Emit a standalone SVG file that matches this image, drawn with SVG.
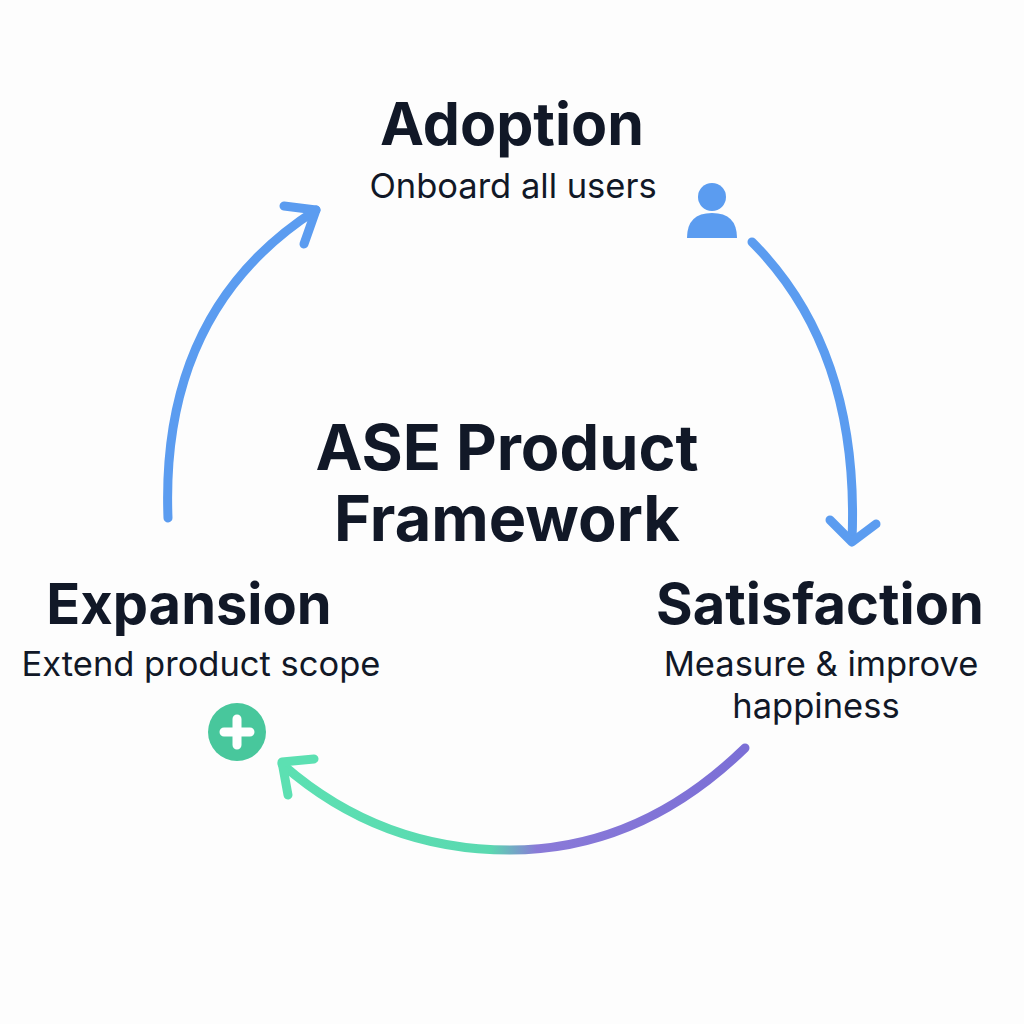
<svg xmlns="http://www.w3.org/2000/svg" width="1024" height="1024" viewBox="0 0 1024 1024">
<defs>
<linearGradient id="g" gradientUnits="userSpaceOnUse" x1="745" y1="0" x2="282" y2="0">
<stop offset="0" stop-color="#7b6fd6"/><stop offset="0.45" stop-color="#8a7ad8"/><stop offset="0.55" stop-color="#5ad9b0"/><stop offset="1" stop-color="#5ce0b2"/>
</linearGradient>
<style>
.t{font-family:Inter,"Noto Sans",sans-serif;font-weight:700;fill:#111827}
.s{font-family:Inter,"Noto Sans",sans-serif;font-weight:400;fill:#111827;font-size:34.5px}
.a{fill:none;stroke-width:9;stroke-linecap:round;stroke-linejoin:round}
</style>
</defs>
<rect width="1024" height="1024" fill="#fdfdfd"/>
<g id="connectors">
<path class="a" stroke="#5b9cf0" d="M752 242 Q860 350 852 540"/>
<path class="a" stroke="#5b9cf0" d="M830 520 L852 542 L876 524"/>
<path class="a" stroke="#5b9cf0" d="M168 518 Q160 310 316 210"/>
<path class="a" stroke="#5b9cf0" d="M284 206 L316 210 L304 244"/>
<path class="a" stroke="url(#g)" d="M745 748 Q640 850 510 850 Q380 850 282 764"/>
<path class="a" stroke="#5ce0b2" d="M314 759 L282 762 L288 795"/>
</g>
<g id="center"><text class="t" x="507" y="470" font-size="63" text-anchor="middle">ASE Product</text>
<text class="t" x="507" y="541" font-size="63" text-anchor="middle">Framework</text></g>
<g id="adoption"><text class="t" x="512" y="145" font-size="59" text-anchor="middle">Adoption</text>
<text class="s" x="513" y="198" text-anchor="middle">Onboard all users</text>
<circle cx="712" cy="197" r="14" fill="#5b9cf0"/><path d="M687 238 Q687 213 712 213 Q737 213 737 238 Z" fill="#5b9cf0"/></g>
<g id="satisfaction"><text class="t" x="820" y="624" font-size="56" text-anchor="middle">Satisfaction</text>
<text class="s" x="821" y="676" text-anchor="middle">Measure &amp; improve</text>
<text class="s" x="816" y="718" text-anchor="middle">happiness</text></g>
<g id="expansion"><text class="t" x="189" y="624" font-size="56" text-anchor="middle">Expansion</text>
<text class="s" x="201" y="676" text-anchor="middle">Extend product scope</text>
<circle cx="237" cy="732" r="29" fill="#48c79c"/><path d="M237 719 V745 M224 732 H250" stroke="#fff" stroke-width="9" stroke-linecap="round"/></g>
</svg>
